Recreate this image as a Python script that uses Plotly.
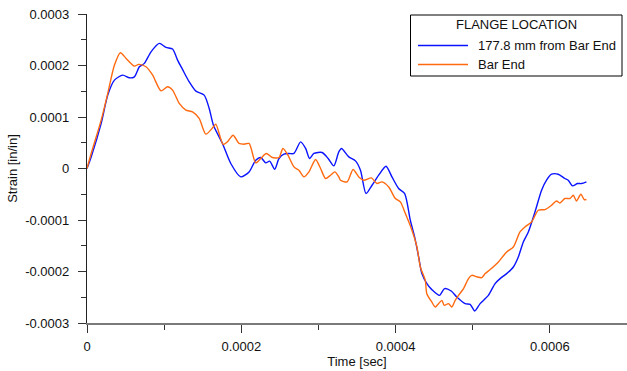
import plotly.graph_objects as go

# ---- data (time in seconds, strain in in/in) ----
t_blue_us = [0, 5.4, 18.4, 26.9, 35.6, 46.3, 54.9, 61.4, 67.9, 74.3, 83.0, 93.7, 102.4, 110.9,
             117.4, 123.8, 132.5, 141.2, 151.9, 158.4, 163.9, 175.6, 186.4, 199.3, 210.1, 218.7,
             225.2, 231.7, 236.8, 243.3, 248.9, 255.3, 261.8, 268.3, 276.9, 283.4, 288.6, 294.1,
             304.8, 312.6, 320.0, 326.4, 329.9, 339.4, 348.0, 354.5, 361.7, 369.5, 378.1, 387.6,
             395.3, 404.0, 411.8, 419.1, 424.7, 429.9, 434.1, 440.6, 447.0, 457.0, 463.5, 472.1,
             479.4, 490.2, 496.7, 502.6, 509.6, 520.3, 529.0, 535.5, 544.0, 552.7, 559.1, 565.6,
             572.1, 580.7, 589.3, 595.7, 602.2, 610.8, 619.5, 623.8, 629.3, 635.8, 641.0, 647.4]
s_blue_u = [0, 22.5, 87.5, 142.5, 171.6, 181.3, 176.1, 178.0, 197.5, 204.1, 226.6, 243.0, 235.2,
            231.9, 210.5, 192.4, 168.3, 150.2, 142.5, 116.6, 84.1, 48.6, 9.7, -16.3, -6.6, 16.1,
            21.4, 10.9, 14.2, -1.4, 19.4, 27.8, 29.2, 29.2, 51.7, 38.9, 19.4, 29.2, 31.1, 19.4,
            5.1, 32.3, 38.9, 22.5, 14.8, -3.3, -48.6, -32.5, -13.0, 4.5, -16.3, -38.9, -48.6,
            -100.5, -132.9, -171.8, -204.1, -223.5, -235.2, -246.3, -233.2, -237.9, -249.6,
            -262.4, -263.7, -276.8, -262.4, -246.3, -223.5, -213.8, -204.1, -191.2, -171.8,
            -142.7, -123.2, -84.4, -42.2, -22.7, -11.1, -11.1, -19.4, -22.7, -33.8, -29.2,
            -29.2, -26.0]

t_orange_us = [0, 5.4, 18.4, 26.9, 35.6, 43.3, 50.7, 61.4, 67.0, 76.5, 85.1, 95.9, 104.5, 110.9,
               119.6, 128.2, 136.8, 145.4, 154.1, 163.9, 167.0, 176.5, 182.0, 189.4, 197.1, 203.6,
               210.1, 218.7, 225.2, 232.4, 240.2, 248.9, 254.0, 260.5, 268.3, 274.7, 281.2, 287.7,
               296.3, 302.8, 309.2, 315.7, 321.3, 326.4, 328.6, 337.2, 344.9, 352.3, 358.8, 368.7,
               375.9, 382.4, 391.1, 399.7, 406.2, 412.7, 421.2, 427.7, 432.1, 438.5, 440.5, 447.0,
               451.4, 455.7, 460.0, 463.1, 468.6, 472.9, 477.3, 481.6, 488.1, 494.5, 498.8, 505.2,
               511.7, 516.1, 522.6, 533.3, 544.0, 552.7, 561.3, 567.8, 576.3, 585.0, 593.6, 602.2,
               608.6, 613.0, 619.5, 626.0, 630.3, 634.5, 640.2, 644.5, 647.4]
s_orange_u = [0, 29.2, 93.9, 145.8, 200.8, 224.7, 213.8, 198.8, 202.1, 197.5, 181.3, 150.8, 158.6,
              152.2, 126.3, 113.3, 110.0, 97.2, 66.7, 80.9, 86.1, 46.6, 51.7, 64.7, 48.6, 47.2,
              48.6, 10.9, 19.4, 29.2, 21.4, 21.4, 38.9, 25.8, 3.1, -3.3, -16.3, -6.6, 17.5, 0,
              -19.4, -13.0, -6.6, -16.3, -22.7, -26.0, -1.9, -16.3, -22.7, -18.3, -29.2, -26.0,
              -35.8, -58.3, -64.9, -87.5, -119.9, -152.4, -191.2, -217.1, -243.0, -259.3, -269.0,
              -262.4, -256.0, -265.7, -262.4, -269.0, -256.0, -246.3, -233.2, -213.8, -207.4,
              -210.3, -211.9, -204.1, -196.3, -181.5, -162.1, -152.4, -123.2, -113.5, -103.8,
              -81.0, -79.7, -71.3, -63.0, -66.9, -58.3, -58.3, -51.9, -63.0, -50.0, -60.3, -60.3]

t_blue = [v * 1e-6 for v in t_blue_us]
s_blue = [v * 1e-6 for v in s_blue_u]
t_orange = [v * 1e-6 for v in t_orange_us]
s_orange = [v * 1e-6 for v in s_orange_u]

series_names = ["177.8 mm from Bar End", "Bar End"]
legend_title = "FLANGE LOCATION"
x_tickvals = [0, 0.0002, 0.0004, 0.0006]
x_ticktext = ["0", "0.0002", "0.0004", "0.0006"]
y_tickvals = [-0.0003, -0.0002, -0.0001, 0, 0.0001, 0.0002, 0.0003]
y_ticktext = ["-0.0003", "-0.0002", "-0.0001", "0", "0.0001", "0.0002", "0.0003"]

BLUE = "#0a14ff"
ORANGE = "#ff6a10"
FONT = "Liberation Sans, Arial, sans-serif"
TXT = "#111111"

W, H = 627, 371
ML, MR, MT, MB = 87, 0, 14, 48

fig = go.Figure()
fig.add_trace(go.Scatter(x=t_blue, y=s_blue, mode="lines", name=series_names[0],
                         line=dict(color=BLUE, width=1.4, shape="spline", smoothing=0.7),
                         showlegend=False))
fig.add_trace(go.Scatter(x=t_orange, y=s_orange, mode="lines", name=series_names[1],
                         line=dict(color=ORANGE, width=1.4, shape="spline", smoothing=0.7),
                         showlegend=False))

# manual legend (pixel -> paper conversion)
pw, ph = W - ML - MR, H - MT - MB
def px(x):
    return (x - ML) / pw
def py(y):
    return (H - MB - y) / ph

shapes = [dict(type="rect", xref="paper", yref="paper", x0=px(410.5), x1=px(622), y0=py(76), y1=py(15),
               line=dict(color="black", width=1), fillcolor="white", layer="above")]
annotations = [dict(text=legend_title, xref="paper", yref="paper", x=px(516), y=py(24.5),
                    xanchor="center", yanchor="middle", showarrow=False,
                    font=dict(family=FONT, size=13, color=TXT))]
for i, (nm, col) in enumerate(zip(series_names, [BLUE, ORANGE])):
    yy = 45.5 + i * 19
    shapes.append(dict(type="line", xref="paper", yref="paper", x0=px(418), x1=px(468), y0=py(yy), y1=py(yy),
                       line=dict(color=col, width=1.4), layer="above"))
    annotations.append(dict(text=nm, xref="paper", yref="paper", x=px(476), y=py(yy),
                            xanchor="left", yanchor="middle", showarrow=False,
                            font=dict(family=FONT, size=13, color=TXT)))

fig.update_layout(
    width=W, height=H,
    margin=dict(l=ML, r=MR, t=MT, b=MB, pad=0),
    paper_bgcolor="white", plot_bgcolor="white",
    font=dict(family=FONT, size=13, color=TXT),
    shapes=shapes, annotations=annotations,
    showlegend=False,
)
fig.update_xaxes(range=[0, 0.0007], tickvals=x_tickvals, ticktext=x_ticktext,
                 showgrid=False, zeroline=False, showline=True, linecolor="#7a7a7a", linewidth=1.5,
                 ticks="outside", ticklen=8, tickcolor="#333", tickwidth=1,
                 minor=dict(ticks="outside", ticklen=5, tickcolor="#333", dtick=0.0001, tick0=0),
                 ticklabelstandoff=3,
                 title=dict(text="Time [sec]", standoff=0, font=dict(size=13)))
fig.update_yaxes(range=[-0.0003, 0.0003], tickvals=y_tickvals, ticktext=y_ticktext,
                 showgrid=False, zeroline=False, showline=True, linecolor="#222", linewidth=1.2,
                 ticks="outside", ticklen=8, tickcolor="#333", tickwidth=1,
                 minor=dict(ticks="outside", ticklen=5, tickcolor="#333", dtick=0.00005, tick0=0),
                 ticklabelstandoff=6,
                 title=dict(text="Strain [in/in]", standoff=4, font=dict(size=13)))

fig.write_html("out.html")
